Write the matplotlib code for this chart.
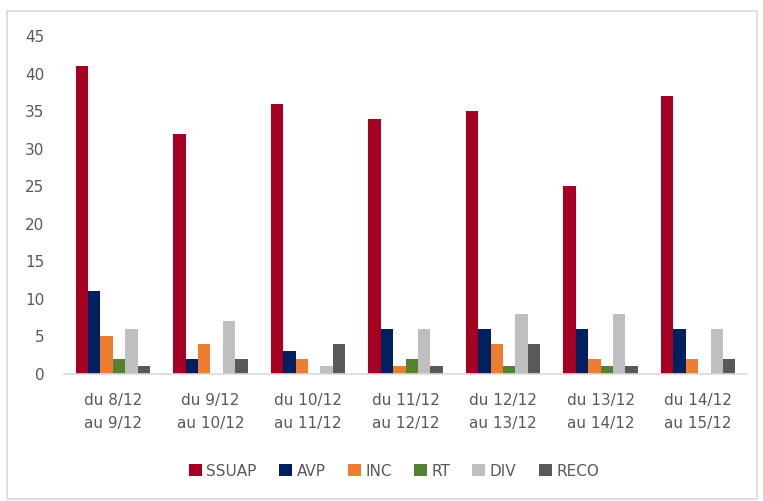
import matplotlib
matplotlib.use("Agg")
import matplotlib.pyplot as plt
import numpy as np
from matplotlib.patches import Rectangle

categories = ["du 8/12\nau 9/12", "du 9/12\nau 10/12", "du 10/12\nau 11/12", "du 11/12\nau 12/12",
              "du 12/12\nau 13/12", "du 13/12\nau 14/12", "du 14/12\nau 15/12"]
ssuap = [41, 32, 36, 34, 35, 25, 37]
avp = [11, 2, 3, 6, 6, 6, 6]
inc = [5, 4, 2, 1, 4, 2, 2]
rt = [2, 0, 0, 2, 1, 1, 0]
div = [6, 7, 1, 6, 8, 8, 6]
reco = [1, 2, 4, 1, 4, 1, 2]
series_names = ["SSUAP", "AVP", "INC", "RT", "DIV", "RECO"]
colors = ["#A50021", "#002060", "#ED7D31", "#548235", "#BFBFBF", "#595959"]

plt.rcParams['font.family'] = ['DejaVu Sans']

fig = plt.figure(figsize=(7.63, 5.01), dpi=100)
fig.patches.append(Rectangle((7/763, 1-499/501), 750/763, 488/501, transform=fig.transFigure,
                             fill=False, edgecolor="#D9D9D9", linewidth=1.2))
ax = fig.add_axes([64/763, 1-374/501, (747-64)/763, (374-36)/501])

data = [ssuap, avp, inc, rt, div, reco]
x = np.arange(len(categories))
w = 0.127
n = len(data)
for i, (vals, name, c) in enumerate(zip(data, series_names, colors)):
    offs = (i - (n-1)/2) * w
    ax.bar(x + offs, vals, width=w, color=c, label=name, linewidth=0)

ax.set_xlim(-0.5, len(categories)-0.5)
ax.set_ylim(0, 45)
ax.set_yticks(range(0, 46, 5))
ax.set_xticks(x)
ax.set_xticklabels(categories, linespacing=1.6)
ax.tick_params(axis='both', length=0, colors="#595959", labelsize=11)
ax.tick_params(axis='x', pad=14)
ax.tick_params(axis='y', pad=14)
for s in ["top", "right", "left"]:
    ax.spines[s].set_visible(False)
ax.spines["bottom"].set_color("#D9D9D9")
ax.spines["bottom"].set_linewidth(1.2)

fig.legend(loc="center", bbox_to_anchor=(394/763, 1-471/501), ncol=6, frameon=False,
           fontsize=11, handlelength=0.85, handleheight=0.85, handletextpad=0.3, columnspacing=1.45,
           labelcolor="#595959")

fig.savefig("out.png", dpi=100)
